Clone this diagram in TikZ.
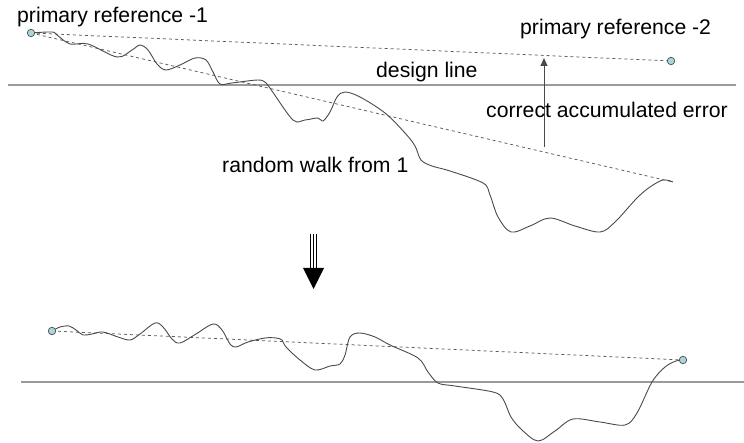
\documentclass[tikz,border=0pt]{standalone}
\usepackage{fontspec}
\setmainfont{Liberation Sans}
\usetikzlibrary{arrows.meta}
\definecolor{walkgray}{HTML}{4A4A4A}
\definecolor{dashgray}{HTML}{5A5A5A}
\definecolor{linegray}{HTML}{9A9A9A}
\definecolor{dotfill}{HTML}{A9D6DA}
\tikzset{
  walk/.style={draw=walkgray, line width=0.9pt},
  refline/.style={draw=dashgray, line width=0.75pt, dash pattern=on 3pt off 3pt},
  designline/.style={draw=linegray, line width=1.5pt},
  refdot/.style={circle, draw=walkgray, line width=0.7pt, fill=dotfill, minimum size=7.5pt, inner sep=0pt},
  lbl/.style={font=\fontsize{21.2}{25}\selectfont, inner sep=0pt, text=black},
}
\begin{document}
\begin{tikzpicture}[x=1pt, y=-1pt]
\useasboundingbox (0,0) rectangle (744,443);

% ---------- upper panel: uncorrected walk ----------
\draw[designline] (8,85) -- (736,85);

\coordinate (p1) at (31,33);
\coordinate (p2) at (671,61);
\coordinate (w1) at (673,182);

\draw[refline] (p1) -- (p2);
\draw[refline] (p1) -- (w1);

\draw[walk] plot[smooth, tension=0.55] coordinates {
  (31,33) (52,32) (57,35) (70,44) (88,44) (117,57) (132,50) (140,45) (148,50)
  (157,64) (166,70) (180,65) (195,58) (206,60) (213,72) (220,84) (232,83)
  (258,80) (266,83) (272,91) (293,120) (305,120) (318,118) (323,121)
  (330,112) (337,97) (345,92) (360,97) (385,113) (405,133) (415,146)
  (421,160) (432,166) (450,171) (483,183) (490,195) (498,217) (511,232) (530,226)
  (550,218) (575,226) (600,232) (615,222) (637,198) (650,187) (663,180) (673,182)
};

\node[refdot] (d1) at (p1) {};
\node[refdot] (d2) at (p2) {};

\coordinate (errbase) at (544,147);
\coordinate (errtip) at (544,58);
\draw[walk, -{Triangle[length=8pt, width=7pt]}] (errbase) -- (errtip);

\node[lbl, anchor=west] (l1) at (17,17) {primary reference -1};
\node[lbl, anchor=west] (l2) at (520,29) {primary reference -2};
\node[lbl, anchor=west] (l3) at (376,72) {design line};
\node[lbl, anchor=west] (l4) at (486,110) {correct accumulated error};
\node[lbl, anchor=west] (l5) at (222,165) {random walk from 1};

% ---------- transition arrow ----------
\coordinate (ta) at (313.5,234);
\coordinate (tb) at (313.5,269);
\draw[black, line width=0.9pt] ([xshift=-3pt]ta) -- ([xshift=-3pt]tb);
\draw[black, line width=0.9pt] (ta) -- (tb);
\draw[black, line width=0.9pt] ([xshift=3pt]ta) -- ([xshift=3pt]tb);
\fill[black] (303,268) -- (324,268) -- (313.5,289) -- cycle;

% ---------- lower panel: corrected walk ----------
\draw[designline] (21,382) -- (744,382);

\coordinate (q1) at (52,331);
\coordinate (q2) at (683,360);
\draw[refline] (q1) -- (q2);

\draw[walk] plot[smooth, tension=0.55] coordinates {
  (52,331) (60,327) (69,326) (76,330) (83,335) (92,334) (103,332) (118,337)
  (130,340) (140,334) (155,323) (163,327) (172,339) (180,343) (196,334)
  (213,324) (222,330) (230,344) (236,347) (248,342) (265,338) (276,338)
  (282,340) (286,347) (300,360) (315,370) (330,366) (340,364) (345,355)
  (350,337) (360,333) (375,337) (390,345) (418,358) (428,372) (438,383) (455,386)
  (493,392) (503,399) (511,417) (522,430) (538,441) (555,431) (573,419)
  (600,422) (625,425) (637,413) (652,382) (665,367) (676,361) (683,360)
};

\node[refdot] (e1) at (q1) {};
\node[refdot] (e2) at (q2) {};
\end{tikzpicture}
\end{document}
